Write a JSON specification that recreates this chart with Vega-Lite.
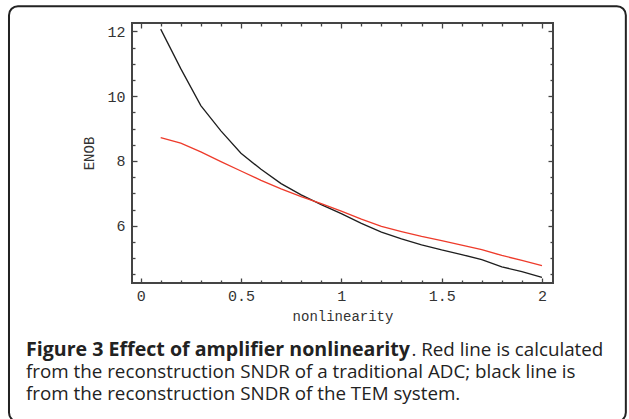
{
  "$schema": "https://vega.github.io/schema/vega-lite/v6.json",
  "width": 421,
  "height": 260,
  "autosize": {"type": "none"},
  "padding": {"left": 132, "top": 23, "right": 76, "bottom": 136},
  "background": "white",
  "config": {
    "view": {"stroke": "#444", "strokeWidth": 2},
    "axis": {"labelFont": "Liberation Mono", "titleFont": "Liberation Mono", "labelColor": "#333", "titleColor": "#333", "tickColor": "#444", "tickWidth": 1.3, "domain": false, "grid": false}
  },
  "datasets": {
    "tem": [
      {"nonlinearity": 0.1, "enob": 12.07},
      {"nonlinearity": 0.2, "enob": 10.85},
      {"nonlinearity": 0.3, "enob": 9.71},
      {"nonlinearity": 0.4, "enob": 8.93},
      {"nonlinearity": 0.5, "enob": 8.24},
      {"nonlinearity": 0.6, "enob": 7.74},
      {"nonlinearity": 0.7, "enob": 7.3},
      {"nonlinearity": 0.8, "enob": 6.95},
      {"nonlinearity": 0.9, "enob": 6.65},
      {"nonlinearity": 1.0, "enob": 6.37},
      {"nonlinearity": 1.1, "enob": 6.07},
      {"nonlinearity": 1.2, "enob": 5.8},
      {"nonlinearity": 1.3, "enob": 5.59},
      {"nonlinearity": 1.4, "enob": 5.41},
      {"nonlinearity": 1.5, "enob": 5.25},
      {"nonlinearity": 1.6, "enob": 5.11},
      {"nonlinearity": 1.7, "enob": 4.95},
      {"nonlinearity": 1.8, "enob": 4.73},
      {"nonlinearity": 1.9, "enob": 4.58},
      {"nonlinearity": 2.0, "enob": 4.4}
    ],
    "adc": [
      {"nonlinearity": 0.1, "enob": 8.72},
      {"nonlinearity": 0.2, "enob": 8.55},
      {"nonlinearity": 0.3, "enob": 8.28},
      {"nonlinearity": 0.4, "enob": 7.98},
      {"nonlinearity": 0.5, "enob": 7.69},
      {"nonlinearity": 0.6, "enob": 7.4},
      {"nonlinearity": 0.7, "enob": 7.14},
      {"nonlinearity": 0.8, "enob": 6.9},
      {"nonlinearity": 0.9, "enob": 6.68},
      {"nonlinearity": 1.0, "enob": 6.45},
      {"nonlinearity": 1.1, "enob": 6.2},
      {"nonlinearity": 1.2, "enob": 5.98},
      {"nonlinearity": 1.3, "enob": 5.82},
      {"nonlinearity": 1.4, "enob": 5.67},
      {"nonlinearity": 1.5, "enob": 5.54},
      {"nonlinearity": 1.6, "enob": 5.4},
      {"nonlinearity": 1.7, "enob": 5.26},
      {"nonlinearity": 1.8, "enob": 5.08},
      {"nonlinearity": 1.9, "enob": 4.93},
      {"nonlinearity": 2.0, "enob": 4.77}
    ],
    "box": [{"label": "frame"}]
  },
  "title": {
    "text": "Figure 3 Effect of amplifier nonlinearity",
    "subtitle": [
      "\u200b\u00a0\u00a0\u00a0\u00a0\u00a0\u00a0\u00a0\u00a0\u00a0\u00a0\u00a0\u00a0\u00a0\u00a0\u00a0\u00a0\u00a0\u00a0\u00a0\u00a0\u00a0\u00a0\u00a0\u00a0\u00a0\u00a0\u00a0\u00a0\u00a0\u00a0\u00a0\u00a0\u00a0\u00a0\u00a0\u00a0\u00a0\u00a0\u00a0\u00a0\u00a0\u00a0\u00a0\u00a0\u00a0\u00a0\u00a0\u00a0\u00a0\u00a0\u00a0\u00a0\u00a0\u00a0\u00a0\u00a0\u00a0\u00a0\u00a0\u00a0\u00a0\u00a0\u00a0\u00a0\u00a0\u00a0\u00a0\u00a0\u00a0\u00a0\u00a0\u00a0\u00a0\u00a0\u00a0\u00a0\u00a0\u00a0\u00a0. Red line is calculated",
      "from the reconstruction SNDR of a traditional ADC; black line is",
      "from the reconstruction SNDR of the TEM system."
    ],
    "orient": "bottom",
    "anchor": "start",
    "frame": "group",
    "dx": -106,
    "dy": -82,
    "offset": 0,
    "font": "Open Sans",
    "fontSize": 19.6,
    "fontWeight": "bold",
    "color": "#222",
    "subtitleFont": "Open Sans",
    "subtitleFontSize": 18.8,
    "subtitleFontWeight": "normal",
    "subtitleColor": "#222",
    "subtitleLineHeight": 22,
    "subtitlePadding": -19
  },
  "resolve": {"axis": {"x": "independent", "y": "independent"}},
  "layer": [
    {
      "data": {"name": "box"},
      "mark": {"type": "rect", "fill": null, "stroke": "#222", "strokeWidth": 2, "cornerRadius": 9, "clip": false},
      "encoding": {
        "x": {"datum": -0.656, "type": "quantitative", "scale": {"domain": [-0.043, 2.055], "nice": false, "zero": false}, "axis": null},
        "x2": {"datum": 2.418},
        "y": {"datum": 12.78, "type": "quantitative", "scale": {"domain": [4.23, 12.26], "nice": false, "zero": false}, "axis": null},
        "y2": {"datum": -0.05}
      }
    },
    {
      "data": {"name": "tem"},
      "mark": {"type": "line", "color": "#1e1e1e", "strokeWidth": 1.3},
      "encoding": {
        "x": {
          "field": "nonlinearity", "type": "quantitative",
          "scale": {"domain": [-0.043, 2.055], "nice": false, "zero": false},
          "axis": {
            "orient": "bottom", "title": "nonlinearity", "titleFontSize": 14, "titleFontWeight": "normal", "titlePadding": 4,
            "values": [0, 0.1, 0.2, 0.3, 0.4, 0.5, 0.6, 0.7, 0.8, 0.9, 1, 1.1, 1.2, 1.3, 1.4, 1.5, 1.6, 1.7, 1.8, 1.9, 2],
            "labelExpr": "abs(datum.value*2 - round(datum.value*2)) < 0.001 ? toString(round(datum.value*10)/10) : ''",
            "labelFontSize": 15, "labelPadding": 10, "labelOverlap": false, "labelFlush": false,
            "tickSize": {"condition": {"test": "abs(datum.value*2 - round(datum.value*2)) < 0.001", "value": -5}, "value": -3}
          }
        },
        "y": {
          "field": "enob", "type": "quantitative",
          "scale": {"domain": [4.23, 12.26], "nice": false, "zero": false},
          "axis": {
            "orient": "left", "title": "ENOB", "titleFontSize": 14, "titleFontWeight": "normal", "titlePadding": 10,
            "values": [4.5, 5, 5.5, 6, 6.5, 7, 7.5, 8, 8.5, 9, 9.5, 10, 10.5, 11, 11.5, 12],
            "labelExpr": "abs(datum.value/2 - round(datum.value/2)) < 0.001 ? toString(round(datum.value)) : ''",
            "labelFontSize": 15, "labelPadding": 12, "labelOverlap": false, "labelFlush": false,
            "tickSize": {"condition": {"test": "abs(datum.value/2 - round(datum.value/2)) < 0.001", "value": -5}, "value": -3}
          }
        }
      }
    },
    {
      "data": {"name": "adc"},
      "mark": {"type": "line", "color": "#ee3b2b", "strokeWidth": 1.3},
      "encoding": {
        "x": {
          "field": "nonlinearity", "type": "quantitative",
          "scale": {"domain": [-0.043, 2.055], "nice": false, "zero": false},
          "axis": {
            "orient": "top", "title": null, "labels": false,
            "values": [0, 0.1, 0.2, 0.3, 0.4, 0.5, 0.6, 0.7, 0.8, 0.9, 1, 1.1, 1.2, 1.3, 1.4, 1.5, 1.6, 1.7, 1.8, 1.9, 2],
            "tickSize": {"condition": {"test": "abs(datum.value*2 - round(datum.value*2)) < 0.001", "value": -5}, "value": -3}
          }
        },
        "y": {
          "field": "enob", "type": "quantitative",
          "scale": {"domain": [4.23, 12.26], "nice": false, "zero": false},
          "axis": {
            "orient": "right", "title": null, "labels": false,
            "values": [4.5, 5, 5.5, 6, 6.5, 7, 7.5, 8, 8.5, 9, 9.5, 10, 10.5, 11, 11.5, 12],
            "tickSize": {"condition": {"test": "abs(datum.value/2 - round(datum.value/2)) < 0.001", "value": -5}, "value": -3}
          }
        }
      }
    }
  ]
}
